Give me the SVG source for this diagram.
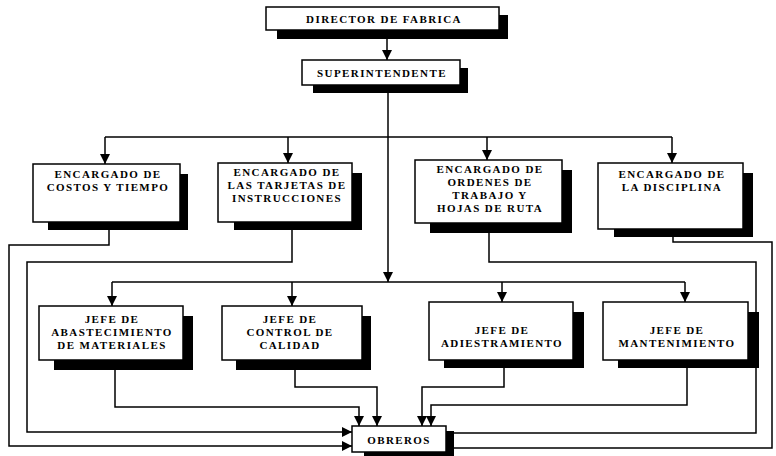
<svg xmlns="http://www.w3.org/2000/svg" width="776" height="456" viewBox="0 0 776 456">
<style>
.bx{fill:#fff;stroke:#000;stroke-width:1.5}
.sh{fill:#000}
.t{font-family:"Liberation Serif","Times New Roman",serif;font-weight:bold;font-size:11px;letter-spacing:1.4px;text-anchor:middle;fill:#000}
.c{fill:none;stroke:#000;stroke-width:1.5}
</style>
<defs>
<marker id="ah" markerUnits="userSpaceOnUse" markerWidth="10" markerHeight="10" refX="10" refY="5" orient="auto" viewBox="0 0 10 10">
<path d="M0,0 L10,5 L0,10 z" fill="#000"/>
</marker>
</defs>
<rect width="776" height="456" fill="#fff"/>
<g id="connectors">
<path class="c" d="M387 39 V60" marker-end="url(#ah)"/>
<path class="c" d="M388 92 V282" marker-end="url(#ah)"/>
<path class="c" d="M105 137 H672"/>
<path class="c" d="M105 137 V164" marker-end="url(#ah)"/>
<path class="c" d="M288 137 V163" marker-end="url(#ah)"/>
<path class="c" d="M487 137 V160" marker-end="url(#ah)"/>
<path class="c" d="M672 137 V163" marker-end="url(#ah)"/>
<path class="c" d="M112 282 H685"/>
<path class="c" d="M112 282 V306" marker-end="url(#ah)"/>
<path class="c" d="M292 282 V306" marker-end="url(#ah)"/>
<path class="c" d="M502 282 V302" marker-end="url(#ah)"/>
<path class="c" d="M685 282 V302" marker-end="url(#ah)"/>
<path class="c" d="M109 230 V245 H9 V446 H352" marker-end="url(#ah)"/>
<path class="c" d="M292 230 V262 H27 V432 H352" marker-end="url(#ah)"/>
<path class="c" d="M489 233 V262 H756 V433 H453"/>
<path class="c" d="M673 237 V242 H772 V448 H453"/>
<path class="c" d="M115 370 V407 H359 V426" marker-end="url(#ah)"/>
<path class="c" d="M295 370 V387 H377 V426" marker-end="url(#ah)"/>
<path class="c" d="M504 368 V387 H422 V426" marker-end="url(#ah)"/>
<path class="c" d="M687 368 V405 H431 V426" marker-end="url(#ah)"/>
</g>
<g id="director">
<path class="sh" d="M499 15 H508 V39 H277 V30 H499 Z"/>
<rect class="bx" x="266" y="7" width="233" height="23"/>
<text class="t" x="384" y="23">DIRECTOR DE FABRICA</text>
</g>
<g id="superintendente">
<path class="sh" d="M460 68 H468 V93 H313 V85 H460 Z"/>
<rect class="bx" x="302" y="60" width="158" height="25"/>
<text class="t" x="382" y="77">SUPERINTENDENTE</text>
</g>
<g id="enc-costos">
<path class="sh" d="M180 174 H188 V230 H48 V222 H180 Z"/>
<rect class="bx" x="33" y="164" width="147" height="58"/>
<text class="t" x="108" y="178">ENCARGADO DE</text>
<text class="t" x="108" y="191">COSTOS Y TIEMPO</text>
</g>
<g id="enc-tarjetas">
<path class="sh" d="M352 173 H362 V230 H234 V222 H352 Z"/>
<rect class="bx" x="218" y="163" width="134" height="59"/>
<text class="t" x="287" y="176">ENCARGADO DE</text>
<text class="t" x="287" y="189">LAS TARJETAS DE</text>
<text class="t" x="287" y="202">INSTRUCCIONES</text>
</g>
<g id="enc-ordenes">
<path class="sh" d="M562 170 H572 V233 H430 V223 H562 Z"/>
<rect class="bx" x="415" y="160" width="147" height="63"/>
<text class="t" x="490" y="173">ENCARGADO DE</text>
<text class="t" x="490" y="186">ORDENES DE</text>
<text class="t" x="490" y="199">TRABAJO Y</text>
<text class="t" x="490" y="212">HOJAS DE RUTA</text>
</g>
<g id="enc-disciplina">
<path class="sh" d="M743 173 H753 V237 H614 V229 H743 Z"/>
<rect class="bx" x="598" y="163" width="145" height="66"/>
<text class="t" x="672" y="178">ENCARGADO DE</text>
<text class="t" x="672" y="191">LA DISCIPLINA</text>
</g>
<g id="jefe-abastecimiento">
<path class="sh" d="M183 316 H193 V370 H54 V360 H183 Z"/>
<rect class="bx" x="39" y="306" width="144" height="54"/>
<text class="t" x="112" y="323">JEFE DE</text>
<text class="t" x="112" y="336">ABASTECIMIENTO</text>
<text class="t" x="112" y="349">DE MATERIALES</text>
</g>
<g id="jefe-calidad">
<path class="sh" d="M362 316 H371 V370 H236 V360 H362 Z"/>
<rect class="bx" x="222" y="306" width="140" height="54"/>
<text class="t" x="290" y="323">JEFE DE</text>
<text class="t" x="290" y="336">CONTROL DE</text>
<text class="t" x="290" y="349">CALIDAD</text>
</g>
<g id="jefe-adiestramiento">
<path class="sh" d="M573 312 H584 V368 H444 V360 H573 Z"/>
<rect class="bx" x="429" y="302" width="144" height="58"/>
<text class="t" x="502" y="334">JEFE DE</text>
<text class="t" x="502" y="347">ADIESTRAMIENTO</text>
</g>
<g id="jefe-mantenimiento">
<path class="sh" d="M748 312 H759 V368 H618 V360 H748 Z"/>
<rect class="bx" x="603" y="302" width="145" height="58"/>
<text class="t" x="677" y="334">JEFE DE</text>
<text class="t" x="677" y="347">MANTENIMIENTO</text>
</g>
<g id="obreros">
<path class="sh" d="M446 431 H454 V456 H364 V452 H446 Z"/>
<rect class="bx" x="352" y="426" width="94" height="26"/>
<text class="t" x="399" y="444">OBREROS</text>
</g>
</svg>
